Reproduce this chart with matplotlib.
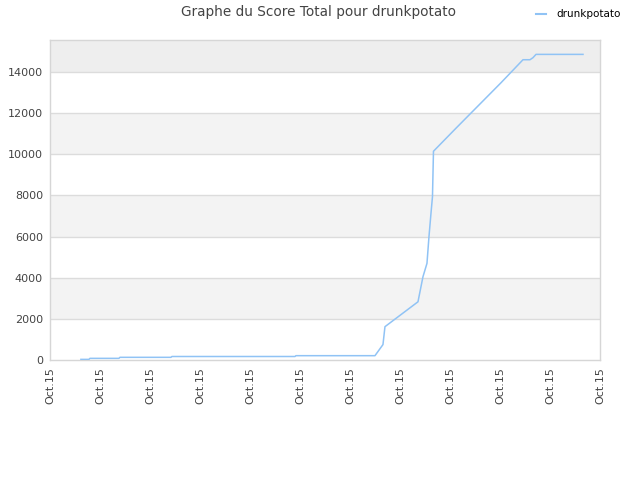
import matplotlib
matplotlib.use('Agg')
import matplotlib.pyplot as plt
from matplotlib.lines import Line2D

# data (x in tick units, 0..11, all ticks "Oct.15")
x_vals = [0.62, 0.78, 0.80, 1.38, 1.40, 2.42, 2.44, 4.90, 4.92, 6.50,
          6.66, 6.70, 7.36, 7.46, 7.54, 7.58, 7.62, 7.65, 7.67, 8.12,
          9.02, 9.46, 9.60, 9.66, 9.72, 10.66]
scores = [30, 30, 80, 80, 130, 130, 170, 170, 210, 210,
          750, 1620, 2830, 4050, 4700, 6000, 7130, 7940, 10150, 11270,
          13480, 14600, 14600, 14700, 14860, 14860]
tick_labels = ['Oct.15'] * 12
y_ticks = [0, 2000, 4000, 6000, 8000, 10000, 12000, 14000]

fig = plt.figure(figsize=(6.4, 4.8), dpi=100)
ax = fig.add_axes([0.078, 0.25, 0.8595, 0.6667])

ymax = 15560
ax.set_xlim(0, 11)
ax.set_ylim(0, ymax)

# alternating bands
for i in range(len(y_ticks)):
    lo = y_ticks[i]
    hi = y_ticks[i + 1] if i + 1 < len(y_ticks) else ymax
    if i % 2 == 1:
        ax.axhspan(lo, hi, color='#f3f3f3', zorder=0, lw=0)
ax.axhspan(14000, ymax, color='#eeeeee', zorder=0, lw=0)
for t in y_ticks[1:]:
    ax.axhline(t, color='#dcdcdc', lw=1, zorder=1)

ax.plot(x_vals, scores, color='#90c3f5', lw=1.1, zorder=3)

ax.set_yticks(y_ticks)
ax.set_yticklabels([str(t) for t in y_ticks])
ax.set_xticks(range(12))
ax.set_xticklabels(tick_labels, rotation=90)
ax.tick_params(length=0, labelsize=8, labelcolor='#444444', pad=5)

for s in ax.spines.values():
    s.set_color('#d6d6d6')
    s.set_linewidth(1)

fig.text(0.497, 0.974, 'Graphe du Score Total pour drunkpotato',
         ha='center', va='center', fontsize=9.8, color='#444444')
leg = fig.legend([Line2D([0], [0], color='#90c3f5', lw=1.5)], ['drunkpotato'],
                 loc='center right', bbox_to_anchor=(0.985, 0.97),
                 frameon=False, fontsize=7.5, handlelength=1.0, handletextpad=1.0)

fig.savefig('out.png', dpi=100)
